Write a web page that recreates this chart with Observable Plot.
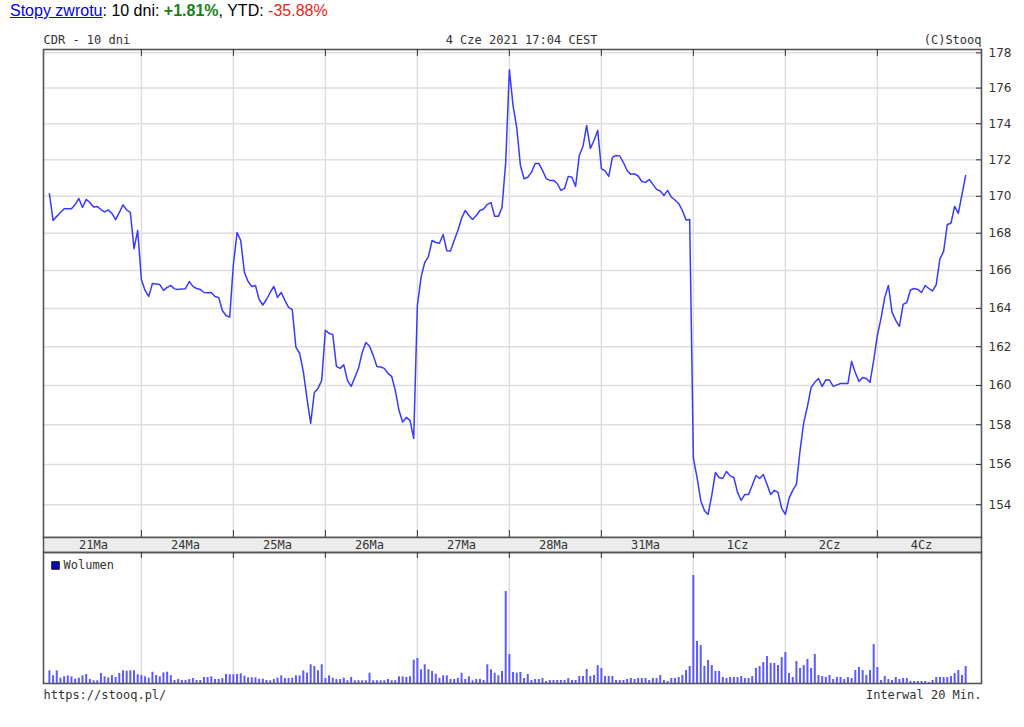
<!DOCTYPE html>
<html><head><meta charset="utf-8">
<script src="https://cdn.jsdelivr.net/npm/d3@7"></script>
<script src="https://cdn.jsdelivr.net/npm/@observablehq/plot@0.6"></script>
<style>
body{margin:0;background:#fff;}
#title{position:absolute;left:10px;top:2px;font:16px "Liberation Sans",Arial,sans-serif;color:#000;white-space:nowrap;}
#title a{color:#0000ee;text-decoration:underline;}
.pos{position:absolute;left:0;}
</style></head><body>
<div id="title"><a href="#">Stopy zwrotu</a>: 10 dni: <b style="color:#1a7f1a">+1.81%</b>, YTD: <span style="color:#f21d1d">-35.88%</span></div>
<div id="price" class="pos" style="top:24px"></div>
<div id="band" class="pos" style="top:537px"></div>
<div id="vol" class="pos" style="top:552px"></div>
<script>
// Trading days shown (25 bars of 20 min each)
const days = ["21Ma","24Ma","25Ma","26Ma","27Ma","28Ma","31Ma","1Cz","2Cz","4Cz"];
const barsPerDay = 25;
const yTicks = [154,156,158,160,162,164,166,168,170,172,174,176,178];

// CDR close per 20-min bar
const price = [
 170.14,168.69,168.91,169.12,169.32,169.32,169.32,169.55,169.88,169.39,169.83,169.66,169.42,169.45,169.28,169.15,169.26,169.07,168.73,169.12,169.53,169.26,169.12,167.17,168.15,
 165.53,164.95,164.63,165.32,165.29,165.26,164.95,165.11,165.21,165.03,165.00,165.03,165.04,165.42,165.16,165.05,165.00,164.84,164.82,164.84,164.63,164.58,163.89,163.63,163.54,
 166.33,168.04,167.61,165.90,165.42,165.16,165.21,164.47,164.18,164.47,164.84,165.16,164.58,164.84,164.42,164.05,163.94,161.96,161.66,160.72,159.34,158.07,159.64,159.85,160.26,
 162.85,162.69,162.64,160.98,160.88,161.06,160.26,159.95,160.41,160.88,161.70,162.22,162.02,161.55,160.98,160.95,160.88,160.62,160.47,159.75,158.73,158.14,158.37,158.22,157.31,
 164.15,165.64,166.43,166.75,167.61,167.50,167.46,167.93,167.06,167.04,167.61,168.15,168.80,169.23,168.96,168.74,168.96,169.23,169.31,169.56,169.66,168.91,168.91,169.39,171.85,
 177.04,175.02,173.79,171.69,170.96,171.04,171.31,171.80,171.80,171.42,170.97,170.87,170.87,170.70,170.32,170.43,171.09,171.04,170.54,172.24,172.74,173.90,172.63,173.07,173.63,
 171.52,171.39,171.09,172.13,172.24,172.21,171.85,171.41,171.20,171.23,171.11,170.81,170.76,170.92,170.65,170.38,170.29,170.04,170.32,169.96,169.80,169.61,169.23,168.72,168.74,
 156.30,155.35,154.21,153.72,153.52,154.46,155.60,155.35,155.30,155.65,155.43,155.35,154.61,154.21,154.51,154.51,154.96,155.45,155.30,155.50,155.01,154.51,154.71,154.61,153.82,
 153.52,154.31,154.71,155.01,156.71,158.12,158.93,159.90,160.16,160.36,159.95,160.29,160.28,159.95,160.03,160.10,160.10,160.10,161.24,160.67,160.21,160.41,160.36,160.16,161.29,
 162.59,163.48,164.58,165.21,163.79,163.37,163.06,164.21,164.31,164.97,165.05,165.00,164.84,165.21,165.05,164.92,165.26,166.64,167.01,168.47,168.54,169.45,169.07,170.10,171.14
];

// Volume per bar (relative units, thousands)
const volume = [
 12.7,7.7,12.7,5.3,6.7,7.7,6.7,4.3,5.3,7.7,9,4,2.7,2.7,10,6.7,5.7,8,6,10,12.7,12.3,12.7,12.7,8.7,
 8,6.7,5.3,11.3,8,6.7,10.7,11.3,7.7,3,4,3,3,4,5,3,3,6,6,6.7,4,4,5,9,8.7,
 8.7,9,9.7,7.3,5.7,5.7,5.7,4.3,4.3,3,2.7,4,5.3,7.7,5,5,5.3,7.7,7.7,12.7,10.3,18.7,17,12.7,18.7,
 5,7.7,5.3,4,4,5.3,2.7,6,2.7,2.7,2.7,2.7,10.3,2.7,2.7,2.7,2.7,4,2.7,2.7,6.7,6.7,6,6.7,23.3,
 25,13.7,18.7,13.7,12,9.3,5.3,7.7,7.7,4,4,5.3,10.3,4,6.7,2.7,4,4,3,18.7,13.7,10.3,7.7,12,92,
 29,11,10.3,11,5,9,3,4,4,5,2,3,3,3,3,3,5,3,3,7,7,14,7,8,18,
 15,7,7,7,3,3,3,4,5,4,5,5,5,3,5,5,8,3,2,5,5,6,8,13,17,
 108,42,38,17,23,18,12,12,6,5,6,6,6,7,5,5,7,15,17,21,27,20,20,18,26,
 31,10,6,22,15,18,24,15,29,8,7,6,8,4,6,6,4,6,5,13,16,13,8,13,39,
 16,3,7,4,3,6,4,5,5,2,2,2,2,2,1,3,6,6,6,6,7,10,13,8,17
];

const idx = d3.range(price.length);
const dayStart = days.map((d, k) => k * barsPerDay);
const dayBounds = dayStart.slice(1);
const xDomain = [-1.6, 253.3];
const W = 1024, ML = 43, MR = 43;
const mono = "'DejaVu Sans Mono', monospace";
const baseStyle = {fontFamily: mono, fontSize: "12px", color: "#333", background: "transparent", overflow: "visible"};
const grid = "#dedede";

const PH = 513, PT = 25;
const pricePlot = Plot.plot({
  width: W, height: PH, marginLeft: ML, marginRight: MR, marginTop: PT, marginBottom: 0,
  style: baseStyle,
  x: {domain: xDomain, axis: null},
  y: {type: "log", domain: [152.39, 178.19], axis: null},
  marks: [
    Plot.ruleY(yTicks, {y: d => d, stroke: grid, strokeWidth: 1.5}),
    Plot.ruleX(dayBounds, {x: d => d, stroke: grid, strokeWidth: 1.5}),
    Plot.line(idx, {x: i => i, y: i => price[i], stroke: "#3a3aff", strokeWidth: 1.5}),
    Plot.frame({stroke: "#555", strokeWidth: 1.6}),
    Plot.tickX(dayBounds, {x: d => d, stroke: "#333", insetBottom: PH - PT - 7}),
    Plot.tickX(dayBounds, {x: d => d, stroke: "#333", insetTop: PH - PT - 7}),
    Plot.tickY(yTicks, {y: d => d, stroke: "#333", insetLeft: (W - ML - MR) - 5}),
    Plot.axisY({ticks: yTicks, anchor: "right", tickSize: 0, tickPadding: 7, tickFormat: d => d,
      fontFamily: "DejaVu Sans", fontSize: 12, fill: "#333"}),
    Plot.text(["CDR - 10 dni"], {text: d => d, frameAnchor: "top-left", textAnchor: "start", lineAnchor: "bottom", dy: -6}),
    Plot.text(["4 Cze 2021 17:04 CEST"], {text: d => d, frameAnchor: "top", dx: 9, lineAnchor: "bottom", dy: -6}),
    Plot.text(["(C)Stooq"], {text: d => d, frameAnchor: "top-right", textAnchor: "end", lineAnchor: "bottom", dy: -6})
  ]
});
document.getElementById("price").appendChild(pricePlot);

const bandPlot = Plot.plot({
  width: W, height: 15, marginLeft: ML, marginRight: MR, marginTop: 0, marginBottom: 0,
  style: baseStyle,
  x: {domain: xDomain, axis: null},
  marks: [
    Plot.frame({fill: "#ececec", stroke: "#555", strokeWidth: 1.5}),
    Plot.text(days, {x: (d, k) => k * barsPerDay + 12, text: d => d, frameAnchor: "middle", fill: "#333"})
  ]
});
document.getElementById("band").appendChild(bandPlot);

const VH = 153, VB = 22;
const volPlot = Plot.plot({
  width: W, height: VH, marginLeft: ML, marginRight: MR, marginTop: 0, marginBottom: VB,
  style: baseStyle,
  x: {domain: xDomain, axis: null},
  y: {domain: [0, 131], axis: null},
  marks: [
    Plot.ruleX(dayBounds, {x: d => d, stroke: grid, strokeWidth: 1.5}),
    Plot.ruleX(idx, {x: i => i, y1: 0, y2: i => volume[i], stroke: "#5b5bff", strokeWidth: 2}),
    Plot.frame({stroke: "#555", strokeWidth: 1.6}),
    Plot.tickX(dayBounds, {x: d => d, stroke: "#333", insetBottom: VH - VB - 6}),
    Plot.dot(["Wolumen"], {frameAnchor: "top-left", dx: 12, dy: 13, symbol: "square", r: 4.3, fill: "#0000cc", stroke: "#222", strokeWidth: 1}),
    Plot.text(["Wolumen"], {text: d => d, frameAnchor: "top-left", dx: 20, dy: 13, textAnchor: "start", lineAnchor: "middle"}),
    Plot.text(["https://stooq.pl/"], {text: d => d, frameAnchor: "bottom-left", textAnchor: "start", lineAnchor: "bottom", dy: 15}),
    Plot.text(["Interwal 20 Min."], {text: d => d, frameAnchor: "bottom-right", textAnchor: "end", lineAnchor: "bottom", dy: 15})
  ]
});
document.getElementById("vol").appendChild(volPlot);
</script>
</body></html>
